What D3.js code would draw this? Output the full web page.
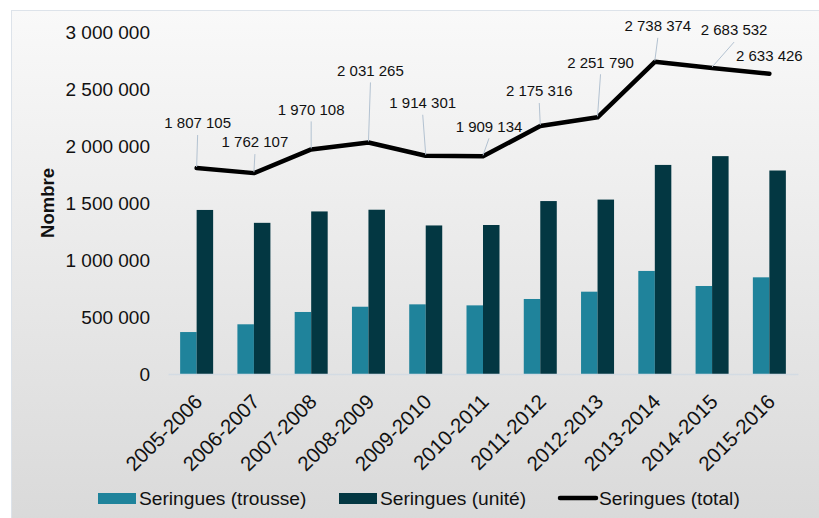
<!DOCTYPE html>
<html>
<head>
<meta charset="utf-8">
<script src="https://cdn.jsdelivr.net/npm/d3@7"></script>
<style>
  html, body { margin: 0; padding: 0; background: #fff; }
  svg { display: block; font-family: "Liberation Sans", Arial, Helvetica, sans-serif; }
</style>
</head>
<body>
<svg id="chart"></svg>
<script>
// data
const years = ["2005-2006", "2006-2007", "2007-2008", "2008-2009", "2009-2010", "2010-2011",
  "2011-2012", "2012-2013", "2013-2014", "2014-2015", "2015-2016"];
const trousse = [368000, 436000, 544000, 590000, 611000, 602000, 658000, 722000, 904000, 772000, 848000];
const unite = [1439000, 1326000, 1426000, 1441000, 1303000, 1307000, 1517000, 1530000, 1834000, 1911000, 1785000];
const total = [1807105, 1762107, 1970108, 2031265, 1914301, 1909134, 2175316, 2251790, 2738374, 2683532, 2633426];
const yTicks = [0, 500000, 1000000, 1500000, 2000000, 2500000, 3000000];
const seriesNames = ["Seringues (trousse)", "Seringues (unité)", "Seringues (total)"];

// where each total label sits relative to its point (px), leader drawn when far enough
const labelShift = [[1, -45], [1, -31], [0, -40], [2, -72], [-3, -53], [6, -30],
  [-1, -35], [3, -55], [3, -36], [22, -38], [0, -18]];

const W = 819, H = 518;
const margin = {top: 32, right: 21, bottom: 144, left: 168};
const width = W - margin.left - margin.right;
const height = H - margin.top - margin.bottom;

const colTrousse = "#1f839b", colUnite = "#033742";
const fmt = v => d3.format(",")(v).replace(/,/g, " ");

const svg = d3.select("#chart").attr("width", W).attr("height", H);

// background panel
const grad = svg.append("defs").append("linearGradient")
  .attr("id", "bg").attr("x1", 0).attr("y1", 0).attr("x2", 0).attr("y2", 1);
grad.append("stop").attr("offset", "0%").attr("stop-color", "#f9f9f9");
grad.append("stop").attr("offset", "100%").attr("stop-color", "#d9d9d9");
svg.append("rect")
  .attr("x", 11.5).attr("y", 10.5).attr("width", W).attr("height", H)
  .attr("fill", "url(#bg)").attr("stroke", "#dde3ea").attr("stroke-width", 1);

const g = svg.append("g").attr("transform", `translate(${margin.left},${margin.top})`);

const x = d3.scaleBand().domain(years).range([0, width]).paddingInner(0).paddingOuter(0);
const y = d3.scaleLinear().domain([0, 3000000]).range([height, 0]);
const barW = 16.5;

// y axis
const yAxis = g.append("g")
  .call(d3.axisLeft(y).tickValues(yTicks).tickFormat(fmt).tickSize(0).tickPadding(18));
yAxis.select(".domain").remove();
yAxis.selectAll("text").attr("font-size", 19).attr("fill", "#111")
  .attr("font-family", "\"Liberation Sans\", Arial, sans-serif");

g.append("text")
  .attr("transform", `translate(${-114},${height / 2}) rotate(-90)`)
  .attr("text-anchor", "middle")
  .attr("font-size", 18.5).attr("font-weight", "bold").attr("fill", "#111")
  .text("Nombre");

// bars
const cat = g.selectAll(".cat").data(years).join("g")
  .attr("transform", d => `translate(${x(d) + x.bandwidth() / 2},0)`);
cat.append("rect")
  .attr("x", -barW).attr("width", barW)
  .attr("y", (d, i) => y(trousse[i])).attr("height", (d, i) => height - y(trousse[i]))
  .attr("fill", colTrousse);
cat.append("rect")
  .attr("x", 0).attr("width", barW)
  .attr("y", (d, i) => y(unite[i])).attr("height", (d, i) => height - y(unite[i]))
  .attr("fill", colUnite);

// x axis
const xAxis = g.append("g").attr("transform", `translate(0,${height})`)
  .call(d3.axisBottom(x).tickSize(0).tickPadding(0));
xAxis.select(".domain").attr("stroke", "#d3dbe3").attr("stroke-width", 1.5);
xAxis.selectAll("text")
  .attr("font-size", 20.5).attr("fill", "#111")
  .attr("font-family", "\"Liberation Sans\", Arial, sans-serif")
  .attr("text-anchor", "end")
  .attr("dy", null).attr("y", null)
  .attr("transform", "translate(7,29) rotate(-45)");

// total line
const cx = (d, i) => x(years[i]) + x.bandwidth() / 2;
g.append("path")
  .datum(total)
  .attr("fill", "none").attr("stroke", "#000").attr("stroke-width", 4.5)
  .attr("stroke-linejoin", "round").attr("stroke-linecap", "round")
  .attr("d", d3.line().x(cx).y(d => y(d)));

// data labels with leader lines
const lab = g.selectAll(".lab").data(total).join("g");
lab.each(function (d, i) {
  const px = cx(d, i), py = y(d);
  const [dx, dy] = labelShift[i];
  const el = d3.select(this);
  if (dy < -22) {
    el.append("line")
      .attr("x1", px).attr("y1", py - 1)
      .attr("x2", px + dx).attr("y2", py + dy + 12)
      .attr("stroke", "#b3c2d1").attr("stroke-width", 1);
  }
  el.append("text")
    .attr("x", px + dx).attr("y", py + dy)
    .attr("dy", "0.35em")
    .attr("text-anchor", "middle")
    .attr("font-size", 15).attr("fill", "#111")
    .text(fmt(d));
});

// legend
const leg = svg.append("g").attr("transform", "translate(0,498)");
const legX = [98, 339, 558];
leg.append("rect").attr("x", legX[0]).attr("y", -5).attr("width", 38).attr("height", 11).attr("fill", colTrousse);
leg.append("rect").attr("x", legX[1]).attr("y", -5).attr("width", 38).attr("height", 11).attr("fill", colUnite);
leg.append("line").attr("x1", legX[2] + 2).attr("x2", legX[2] + 38).attr("y1", 0).attr("y2", 0)
  .attr("stroke", "#000").attr("stroke-width", 4.5).attr("stroke-linecap", "round");
leg.selectAll(".lt").data(seriesNames).join("text")
  .attr("x", (d, i) => legX[i] + 41).attr("y", 0).attr("dy", "0.35em")
  .attr("font-size", 19.2).attr("fill", "#111")
  .text(d => d);
</script>
</body>
</html>
